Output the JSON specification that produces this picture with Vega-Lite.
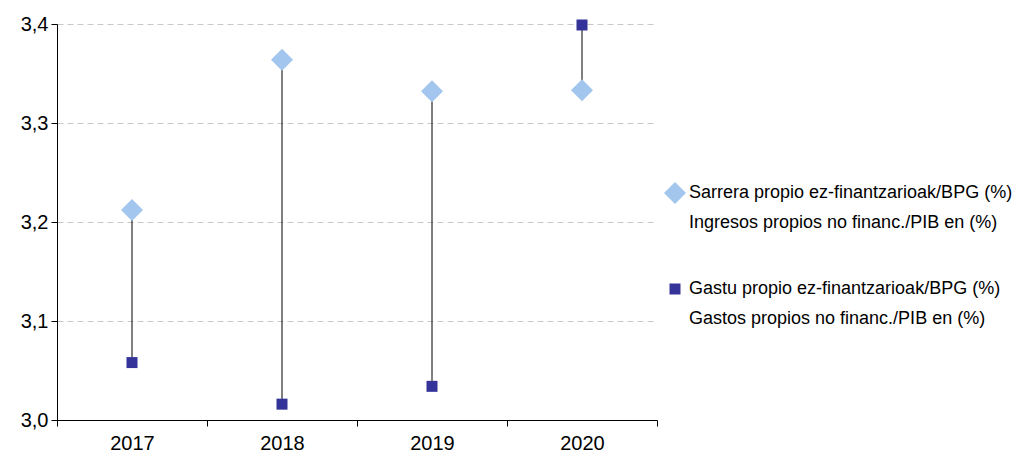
{
  "$schema": "https://vega.github.io/schema/vega-lite/v6.json",
  "width": 600,
  "height": 396,
  "autosize": "none",
  "padding": {"left": 57, "top": 24, "right": 361, "bottom": 38},
  "background": "white",
  "config": {
    "view": {"stroke": null},
    "font": "Liberation Sans"
  },
  "data": {
    "values": [
      {"year": "2017", "ingresos": 3.212, "gastos": 3.058},
      {"year": "2018", "ingresos": 3.364, "gastos": 3.016},
      {"year": "2019", "ingresos": 3.332, "gastos": 3.034},
      {"year": "2020", "ingresos": 3.333, "gastos": 3.399}
    ]
  },
  "encoding": {
    "x": {
      "field": "year", "type": "nominal", "title": null,
      "scale": {"paddingInner": 0, "paddingOuter": 0},
      "axis": {
        "labelAngle": 0, "labelFontSize": 20, "labelColor": "#000000", "labelPadding": 7,
        "tickBand": "extent", "tickSize": 6, "tickColor": "#000000",
        "domainColor": "#000000", "grid": false
      }
    }
  },
  "layer": [
    {
      "mark": {"type": "rule", "color": "#000000", "strokeWidth": 1},
      "encoding": {
        "y": {"field": "gastos", "type": "quantitative"},
        "y2": {"field": "ingresos"}
      }
    },
    {
      "transform": [
        {"fold": ["ingresos", "gastos"], "as": ["key", "value"]},
        {"lookup": "key", "from": {"data": {"values": [
          {"key": "ingresos", "serie": "Sarrera propio ez-finantzarioak/BPG (%)|Ingresos propios no financ./PIB en (%)"},
          {"key": "gastos", "serie": "Gastu propio ez-finantzarioak/BPG (%)|Gastos propios no financ./PIB en (%)"}
        ]}, "key": "key", "fields": ["serie"]}}
      ],
      "mark": {"type": "point", "filled": true, "opacity": 1},
      "encoding": {
        "y": {
          "field": "value", "type": "quantitative", "title": null,
          "scale": {"domain": [3.0, 3.4], "nice": false, "zero": false},
          "axis": {
            "values": [3.0, 3.1, 3.2, 3.3, 3.4],
            "labelExpr": "replace(format(datum.value, '.1f'), '.', ',')",
            "labelFontSize": 20, "labelColor": "#000000", "labelPadding": 3,
            "tickSize": 6, "tickColor": "#000000", "domainColor": "#000000",
            "grid": true, "gridColor": "#c8c8c8", "gridDash": [6, 4], "gridWidth": 1
          }
        },
        "color": {
          "field": "serie", "type": "nominal",
          "scale": {
            "domain": ["Sarrera propio ez-finantzarioak/BPG (%)|Ingresos propios no financ./PIB en (%)", "Gastu propio ez-finantzarioak/BPG (%)|Gastos propios no financ./PIB en (%)"],
            "range": ["#a2c6ee", "#333399"]
          },
          "legend": {
            "title": null, "orient": "none", "legendX": 606, "legendY": 157,
            "labelExpr": "split(datum.label, '|')",
            "labelFontSize": 18, "labelColor": "#000000", "labelLimit": 400,
            "labelBaseline": "top", "labelOffset": 2,
            "rowPadding": 48, "symbolSize": 220, "symbolOpacity": 1,
            "encode": {
              "labels": {"update": {"lineHeight": {"value": 30}, "dy": {"value": -9}}},
              "symbols": {"update": {"size": {"signal": "datum.index === 0 ? 220 : 100"}}}
            }
          }
        },
        "shape": {
          "field": "serie", "type": "nominal",
          "scale": {
            "domain": ["Sarrera propio ez-finantzarioak/BPG (%)|Ingresos propios no financ./PIB en (%)", "Gastu propio ez-finantzarioak/BPG (%)|Gastos propios no financ./PIB en (%)"],
            "range": ["diamond", "square"]
          }
        },
        "size": {
          "field": "serie", "type": "nominal", "legend": null,
          "scale": {
            "domain": ["Sarrera propio ez-finantzarioak/BPG (%)|Ingresos propios no financ./PIB en (%)", "Gastu propio ez-finantzarioak/BPG (%)|Gastos propios no financ./PIB en (%)"],
            "range": [484, 121]
          }
        }
      }
    }
  ]
}
